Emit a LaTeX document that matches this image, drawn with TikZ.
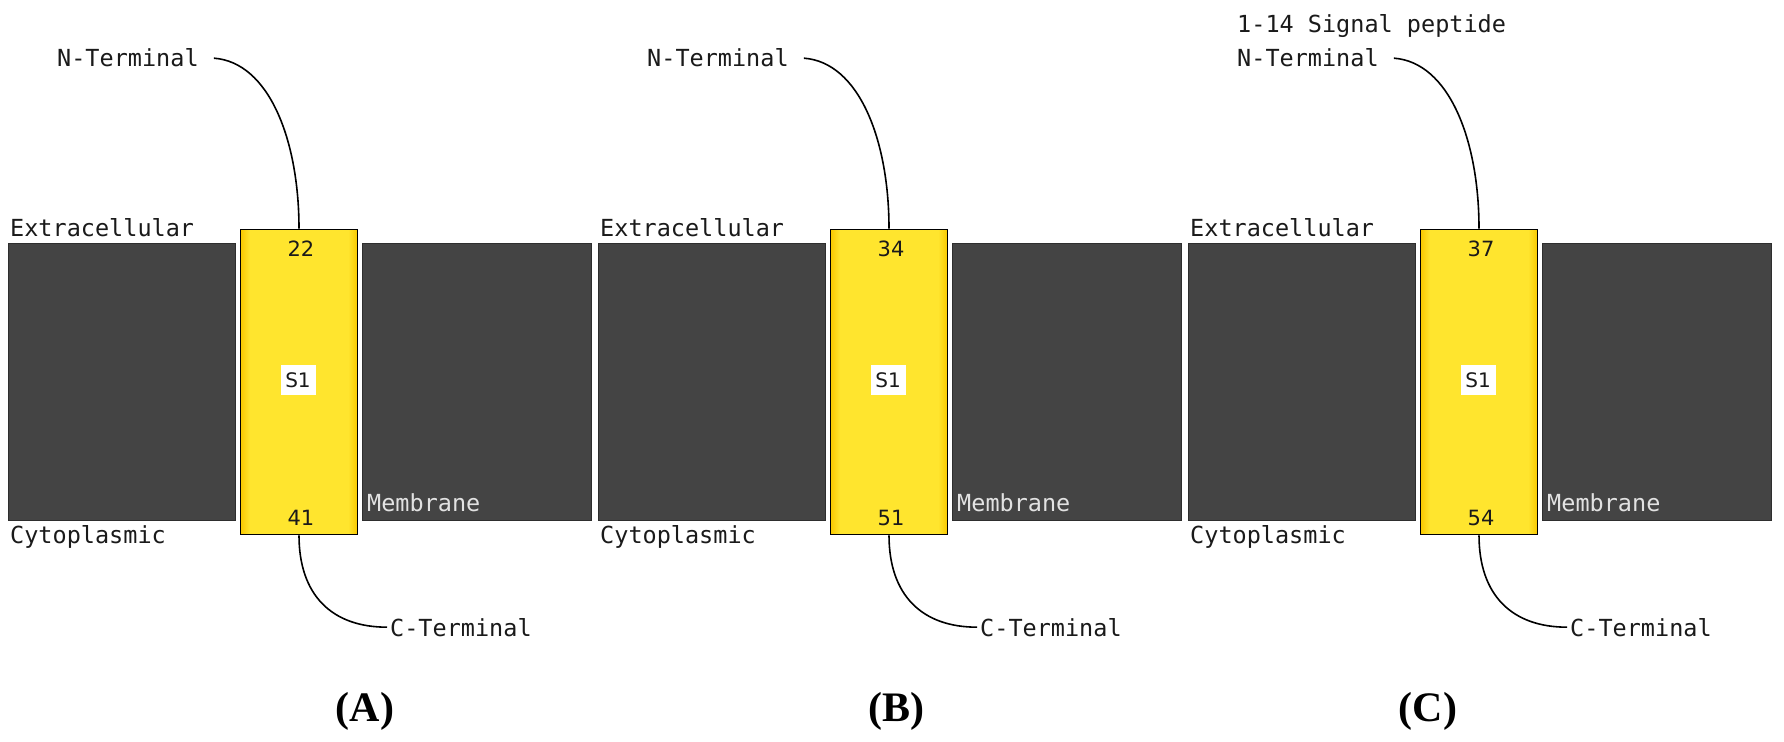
\documentclass[tikz,border=0pt]{standalone}
\usepackage{fontspec}
\newfontfamily\monof{DejaVu Sans Mono}
\newfontfamily\numf{DejaVu Sans}
\newfontfamily\labf{Liberation Serif}
\definecolor{memb}{HTML}{444444}
\definecolor{membedge}{HTML}{2E2E2E}
\definecolor{membtxt}{HTML}{E2E2E2}
\definecolor{yel}{HTML}{FFE52E}
\definecolor{yeledge}{HTML}{F9C800}
\definecolor{txt}{HTML}{1A1A1A}
\pgfdeclarehorizontalshading{tmshade}{100bp}{color(0bp)=(yeledge); color(25bp)=(yeledge); color(29bp)=(yel); color(71bp)=(yel); color(75bp)=(yeledge); color(100bp)=(yeledge)}
\begin{document}
\begin{tikzpicture}[x=1pt,y=-1pt,
  membr/.style={draw=membedge, line width=1.2pt, fill=memb, inner sep=0, minimum height=277pt},
  tmbox/.style={draw=black, line width=1.6pt, shading=tmshade, minimum width=117pt, minimum height=305pt, inner sep=0},
  mono/.style={font=\monof\fontsize{23.5}{28}\selectfont, text=txt, inner sep=0, anchor=base west},
  num/.style={font=\numf\fontsize{21}{24}\selectfont, text=txt, inner sep=0, anchor=base},
  s1box/.style={fill=white, font=\numf\fontsize{20}{24}\selectfont, text=txt, minimum width=35pt, minimum height=30pt, inner sep=0},
  conn/.style={draw=black, line width=1.6pt},
  plabel/.style={font=\labf\bfseries\fontsize{42}{48}\selectfont, text=black, inner sep=0}
]
\fill[white] (0,0) rectangle (1784,741);
\useasboundingbox (0,0) rectangle (1784,741);
\foreach \pn/\pdx/\ntop/\nbot/\plx in {A/0/22/41/365, B/590/34/51/896, C/1180/37/54/1428}{
  \node[membr, minimum width=227pt] (ml\pn) at ({122+\pdx},382) {};
  \node[membr, minimum width=229pt] (mr\pn) at ({477+\pdx},382) {};
  \node[tmbox] (tm\pn) at ({299+\pdx},382) {};
  \node[num] (na\pn) at ({301+\pdx},256) {\ntop};
  \node[num] (nb\pn) at ({301+\pdx},525) {\nbot};
  \node[s1box] (s\pn) at ({298+\pdx},380) {S1};
  \node[mono] (ex\pn) at ({10+\pdx},236) {Extracellular};
  \node[mono] (cy\pn) at ({10+\pdx},543) {Cytoplasmic};
  \node[mono, text=membtxt] (me\pn) at ({367+\pdx},511) {Membrane};
  \node[mono] (nt\pn) at ({57+\pdx},67) {N-Terminal};
  \node[mono] (ct\pn) at ({390+\pdx},636) {C-Terminal};
  \node[plabel] (lab\pn) at (\plx,711) {(\pn)};
  \draw[conn] ([xshift=15pt]nt\pn.east) .. controls +(55,4) and +(0,-89) .. (tm\pn.north);
  \draw[conn] (tm\pn.south) .. controls +(0,60) and +(-55,0) .. ([xshift=-3pt]ct\pn.west);
}
\node[mono] (sp) at (1237,33) {1-14 Signal peptide};
\end{tikzpicture}
\end{document}
